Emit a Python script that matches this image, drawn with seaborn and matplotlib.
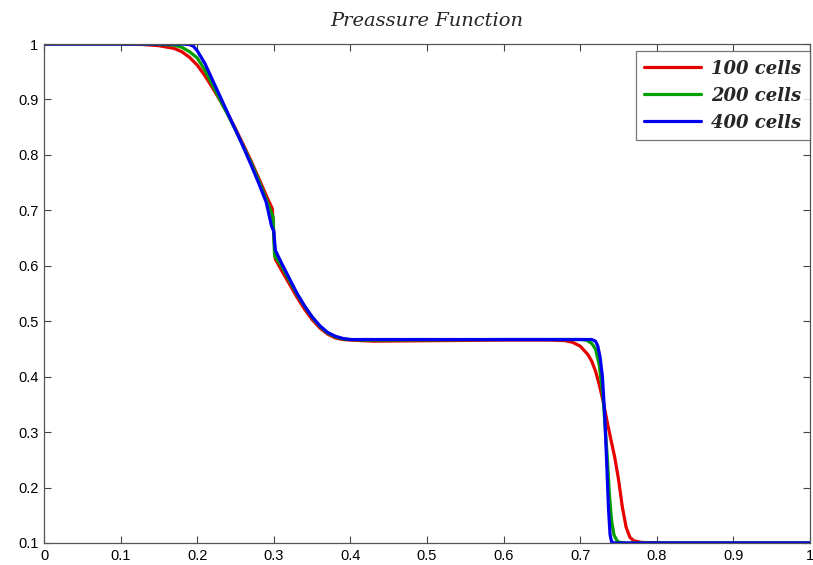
import numpy as np
import pandas as pd
import matplotlib
matplotlib.use("Agg")
import matplotlib.pyplot as plt
import seaborn as sns
from matplotlib.lines import Line2D

series_names = ["100 cells", "200 cells", "400 cells"]
colors = ["#e60000", "#00a000", "#0000f0"]

x_100 = [0, 0.10, 0.13, 0.15, 0.17, 0.18, 0.19, 0.20, 0.21, 0.22, 0.23, 0.24, 0.25, 0.26,
         0.27, 0.28, 0.29, 0.298, 0.302, 0.31, 0.32, 0.33, 0.34, 0.35, 0.36, 0.37, 0.38,
         0.39, 0.40, 0.43, 0.60, 0.66, 0.68, 0.69, 0.70, 0.71, 0.715, 0.72, 0.725, 0.73,
         0.735, 0.74, 0.745, 0.75, 0.755, 0.76, 0.765, 0.77, 0.78, 0.82, 1.0]
y_100 = [1, 1, 0.999, 0.997, 0.992, 0.986, 0.976, 0.962, 0.943, 0.921, 0.898, 0.874, 0.847,
         0.819, 0.790, 0.759, 0.727, 0.703, 0.612, 0.592, 0.568, 0.544, 0.522, 0.503, 0.488,
         0.477, 0.470, 0.467, 0.466, 0.464, 0.466, 0.466, 0.465, 0.462, 0.455, 0.44, 0.428,
         0.41, 0.385, 0.355, 0.32, 0.287, 0.255, 0.215, 0.165, 0.128, 0.11, 0.104, 0.101,
         0.1, 0.1]

x_200 = [0, 0.14, 0.17, 0.18, 0.19, 0.20, 0.21, 0.22, 0.23, 0.24, 0.25, 0.26, 0.27, 0.28,
         0.29, 0.299, 0.301, 0.31, 0.32, 0.33, 0.34, 0.35, 0.36, 0.37, 0.38, 0.39, 0.40,
         0.42, 0.60, 0.70, 0.708, 0.715, 0.72, 0.725, 0.73, 0.735, 0.738, 0.741, 0.744,
         0.748, 0.752, 0.76, 1.0]
y_200 = [1, 1, 0.998, 0.994, 0.986, 0.975, 0.953, 0.926, 0.899, 0.872, 0.845, 0.816, 0.787,
         0.755, 0.720, 0.688, 0.618, 0.600, 0.574, 0.549, 0.527, 0.507, 0.491, 0.479, 0.472,
         0.468, 0.467, 0.466, 0.467, 0.467, 0.466, 0.46, 0.45, 0.42, 0.36, 0.262, 0.19,
         0.14, 0.115, 0.104, 0.101, 0.1, 0.1]

x_400 = [0, 0.15, 0.18, 0.19, 0.195, 0.20, 0.21, 0.22, 0.23, 0.24, 0.25, 0.26, 0.27, 0.28,
         0.29, 0.297, 0.300, 0.302, 0.31, 0.32, 0.33, 0.34, 0.35, 0.36, 0.37, 0.38, 0.39,
         0.40, 0.45, 0.60, 0.70, 0.715, 0.72, 0.723, 0.726, 0.729, 0.732, 0.735, 0.737,
         0.739, 0.741, 0.745, 1.0]
y_400 = [1, 1, 1, 0.999, 0.996, 0.988, 0.965, 0.935, 0.905, 0.875, 0.845, 0.815, 0.783,
         0.750, 0.715, 0.672, 0.662, 0.628, 0.605, 0.578, 0.551, 0.528, 0.508, 0.492, 0.480,
         0.473, 0.469, 0.467, 0.467, 0.467, 0.467, 0.467, 0.464, 0.455, 0.435, 0.40, 0.33,
         0.23, 0.16, 0.115, 0.102, 0.1, 0.1]

x_ticks = [0, 0.1, 0.2, 0.3, 0.4, 0.5, 0.6, 0.7, 0.8, 0.9, 1]
x_labels = ["0", "0.1", "0.2", "0.3", "0.4", "0.5", "0.6", "0.7", "0.8", "0.9", "1"]
y_ticks = [0.1, 0.2, 0.3, 0.4, 0.5, 0.6, 0.7, 0.8, 0.9, 1]
y_labels = ["0.1", "0.2", "0.3", "0.4", "0.5", "0.6", "0.7", "0.8", "0.9", "1"]

frames = []
for name, xs, ys in zip(series_names, [x_100, x_200, x_400], [y_100, y_200, y_400]):
    frames.append(pd.DataFrame({"x": xs, "y": ys, "series": name}))
df = pd.concat(frames, ignore_index=True)

sns.set_style("ticks")
plt.rcParams["font.family"] = ["Liberation Sans", "DejaVu Sans"]

fig = plt.figure(figsize=(8.13, 5.65), dpi=100)
ax = fig.add_axes([44 / 813, 1 - 543 / 565, (810 - 44) / 813, (543 - 44) / 565])

sns.lineplot(data=df, x="x", y="y", hue="series", hue_order=series_names,
             palette=colors, estimator=None, sort=False, linewidth=2.3, ax=ax,
             legend=False)

ax.set_xlim(0, 1)
ax.set_ylim(0.1, 1)
ax.set_xticks(x_ticks)
ax.set_xticklabels(x_labels)
ax.set_yticks(y_ticks)
ax.set_yticklabels(y_labels)
ax.set_xlabel("")
ax.set_ylabel("")
ax.tick_params(direction="in", length=5, width=0.8, labelsize=10.5, colors="#444444",
               labelcolor="black", top=True, right=True, pad=4)
for s in ax.spines.values():
    s.set_visible(True)
    s.set_color("#555555")
    s.set_linewidth(0.9)

ax.set_title("Preassure Function", family=["DejaVu Serif"],
             style="italic", fontsize=14, pad=13)

handles = [Line2D([0], [0], color=c, lw=2.3) for c in colors]
leg = ax.legend(handles, series_names, loc="upper right", bbox_to_anchor=(0.9995, 0.985),
                prop={"family": ["DejaVu Serif"], "style": "italic",
                      "weight": "bold", "size": 13},
                frameon=True, fancybox=False, edgecolor="#555555", handlelength=3.2,
                borderaxespad=0.0, labelspacing=0.5, handletextpad=0.55, borderpad=0.45)
leg.get_frame().set_linewidth(0.9)

fig.savefig("out.png", dpi=100, facecolor="white")
